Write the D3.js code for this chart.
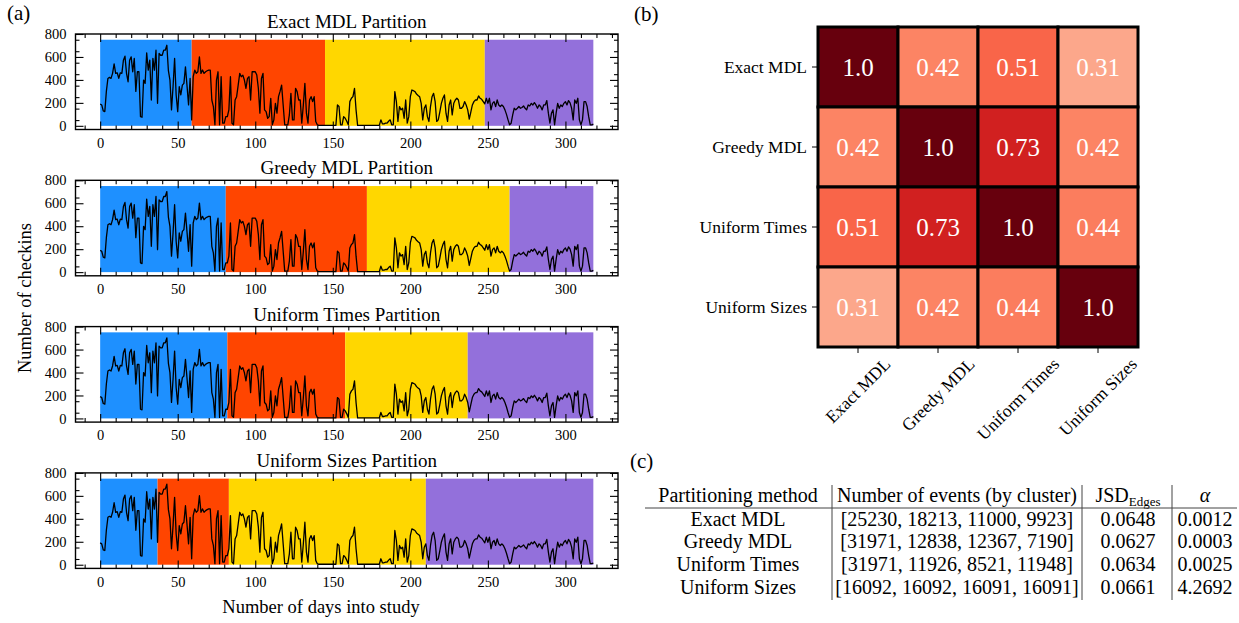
<!DOCTYPE html>
<html><head><meta charset="utf-8">
<script src="https://cdn.jsdelivr.net/npm/d3@7"></script>
<style>
body{margin:0;background:#fff}
text{font-family:'Liberation Serif','DejaVu Serif',serif}
</style>
</head><body>
<svg id="c" width="1239" height="623" font-family="Liberation Serif"></svg>
<script>
// ---------- DATA ----------
const checkins = [
190,182,130,124,300,413,422,413,457,540,
457,462,413,462,457,572,607,457,384,572,
601,471,587,300,471,471,80,75,399,370,
636,485,572,225,587,485,659,196,630,615,
615,659,659,702,480,399,139,341,587,269,
124,341,269,355,370,514,350,182,413,52,
428,486,457,471,601,457,486,457,471,480,
486,486,225,168,9,399,471,9,428,23,
23,80,80,139,428,23,9,225,254,355,
457,428,442,399,327,413,428,225,471,471,
471,442,327,110,413,457,139,124,66,80,
240,9,52,196,110,254,300,355,182,9,
9,9,95,283,52,52,327,298,225,225,
23,180,370,110,23,225,254,211,254,38,
9,4,4,4,4,4,4,4,4,4,
4,4,4,182,168,9,9,80,66,40,
9,211,240,254,327,139,4,4,4,4,
4,4,4,4,4,4,4,4,4,4,
4,52,17,17,23,23,40,52,9,9,
298,211,38,168,139,153,66,225,23,80,
254,312,306,298,277,265,254,196,52,153,
182,80,38,168,254,283,211,38,52,120,
196,240,269,110,38,182,225,95,196,225,
240,225,153,153,168,211,182,139,58,120,
182,211,225,225,260,240,231,211,191,240,
196,240,139,196,211,168,225,182,168,182,
168,139,100,52,9,23,95,153,139,153,
168,153,160,173,153,139,182,173,196,182,
202,182,153,182,168,139,182,182,220,110,
23,110,139,9,110,196,153,182,168,196,
211,182,220,200,153,52,225,196,240,52,
9,52,211,211,168,80,9,9,15
];
const methods = ["Exact MDL","Greedy MDL","Uniform Times","Uniform Sizes"];
const exactBounds  = [0,59,145,248,318];
const greedyBounds = [0,81,172,264,318];
const timesBounds  = [0,82,158,237,318];
const sizesBounds  = [0,37,83,210,318];
const clusterColors = ["#1E90FF","#FF4500","#FFD700","#9370DB"];
const bandTop = 750;
const xTicks = [0,50,100,150,200,250,300];
const yTicks = [0,200,400,600,800];
const similarity = [
  [1.0,0.42,0.51,0.31],
  [0.42,1.0,0.73,0.42],
  [0.51,0.73,1.0,0.44],
  [0.31,0.42,0.44,1.0]
];
const tableEvents = ["[25230, 18213, 11000, 9923]","[31971, 12838, 12367, 7190]","[31971, 11926, 8521, 11948]","[16092, 16092, 16091, 16091]"];
const tableJSD = ["0.0648","0.0627","0.0634","0.0661"];
const tableAlpha = ["0.0012","0.0003","0.0025","4.2692"];

// ---------- PANEL A ----------
const svg = d3.select("#c");
const serif = "Liberation Serif";
const partitions = [exactBounds, greedyBounds, timesBounds, sizesBounds];
const aLeft = 75.5, aRight = 618, aTop0 = 34, aH = 95.5, aStep = 146.3;
const x = d3.scaleLinear().domain([-15.9, 333.9]).range([aLeft, aRight]);
const xMinor = d3.range(-10, 334, 10).filter(v => v % 50 !== 0);
const yMinor = d3.range(50, 800, 100);

function styleAxis(g){
  g.select(".domain").remove();
  g.attr("font-family", serif).attr("font-size", 14.5);
  g.selectAll("line").attr("stroke","#000").attr("stroke-width",1.1);
  g.selectAll("text").attr("fill","#000");
}

partitions.forEach((bounds, i) => {
  const top = aTop0 + i*aStep, bot = top + aH;
  const y = d3.scaleLinear().domain([-32, 800]).range([bot, top]);
  const g = svg.append("g");
  for (let k = 0; k < 4; k++) {
    g.append("rect")
      .attr("x", x(bounds[k])).attr("width", x(bounds[k+1]) - x(bounds[k]))
      .attr("y", y(bandTop)).attr("height", y(0) - y(bandTop))
      .attr("fill", clusterColors[k]);
  }
  g.append("path").datum(checkins)
    .attr("d", d3.line().x((d,j) => x(j)).y(d => y(d)))
    .attr("fill","none").attr("stroke","#000").attr("stroke-width",1.3)
    .attr("stroke-linejoin","round");
  g.append("g").attr("transform",`translate(0,${bot})`)
    .call(d3.axisBottom(x).tickValues(xTicks).tickSizeInner(-8).tickSizeOuter(0).tickPadding(8)).call(styleAxis);
  g.append("g").attr("transform",`translate(0,${bot})`)
    .call(d3.axisBottom(x).tickValues(xMinor).tickSizeInner(-4).tickSizeOuter(0).tickFormat("")).call(styleAxis);
  g.append("g").attr("transform",`translate(0,${top})`)
    .call(d3.axisTop(x).tickValues(xTicks).tickSizeInner(-8).tickSizeOuter(0).tickFormat("")).call(styleAxis);
  g.append("g").attr("transform",`translate(0,${top})`)
    .call(d3.axisTop(x).tickValues(xMinor).tickSizeInner(-4).tickSizeOuter(0).tickFormat("")).call(styleAxis);
  g.append("g").attr("transform",`translate(${aLeft},0)`)
    .call(d3.axisLeft(y).tickValues(yTicks).tickSizeInner(-8).tickSizeOuter(0).tickPadding(9)).call(styleAxis);
  g.append("g").attr("transform",`translate(${aLeft},0)`)
    .call(d3.axisLeft(y).tickValues(yMinor).tickSizeInner(-4).tickSizeOuter(0).tickFormat("")).call(styleAxis);
  g.append("g").attr("transform",`translate(${aRight},0)`)
    .call(d3.axisRight(y).tickValues(yTicks).tickSizeInner(-8).tickSizeOuter(0).tickFormat("")).call(styleAxis);
  g.append("g").attr("transform",`translate(${aRight},0)`)
    .call(d3.axisRight(y).tickValues(yMinor).tickSizeInner(-4).tickSizeOuter(0).tickFormat("")).call(styleAxis);
  g.append("rect").attr("x",aLeft).attr("y",top).attr("width",aRight-aLeft).attr("height",aH)
    .attr("fill","none").attr("stroke","#000").attr("stroke-width",1.4);
  g.append("text").attr("x",(aLeft+aRight)/2).attr("y",top-6).attr("text-anchor","middle")
    .attr("font-size",19).text(methods[i] + " Partition");
});
svg.append("text").attr("x",321).attr("y",613).attr("text-anchor","middle").attr("font-size",18.5)
  .text("Number of days into study");
svg.append("text").attr("transform","translate(31,298) rotate(-90)").attr("text-anchor","middle").attr("font-size",18.5)
  .text("Number of checkins");
svg.append("text").attr("x",7).attr("y",20).attr("font-size",21).text("(a)");

// ---------- PANEL B ----------
svg.append("text").attr("x",634).attr("y",21).attr("font-size",21).text("(b)");
const hx = d3.scaleBand().domain(methods).range([818,1138]);
const hy = d3.scaleBand().domain(methods).range([27,347]);
const color = d3.scaleSequential(d3.interpolateReds).domain([0,1]);
const hg = svg.append("g");
similarity.forEach((row, r) => row.forEach((v, c) => {
  hg.append("rect").attr("x",hx(methods[c])).attr("y",hy(methods[r]))
    .attr("width",hx.bandwidth()).attr("height",hy.bandwidth())
    .attr("fill",color(v)).attr("stroke","#000").attr("stroke-width",3);
  hg.append("text").attr("x",hx(methods[c])+hx.bandwidth()/2).attr("y",hy(methods[r])+hy.bandwidth()/2)
    .attr("text-anchor","middle").attr("dominant-baseline","central")
    .attr("fill","#fff").attr("font-size",25).text(v === 1 ? "1.0" : String(v));
}));
methods.forEach(m => {
  const cy = hy(m) + hy.bandwidth()/2;
  hg.append("line").attr("x1",812).attr("x2",818).attr("y1",cy).attr("y2",cy).attr("stroke","#000");
  hg.append("text").attr("x",807).attr("y",cy).attr("text-anchor","end").attr("dominant-baseline","central")
    .attr("font-size",17.5).text(m);
  const cx = hx(m) + hx.bandwidth()/2;
  hg.append("line").attr("x1",cx).attr("x2",cx).attr("y1",347).attr("y2",353).attr("stroke","#000");
  const t = hg.append("text").attr("text-anchor","middle").attr("dominant-baseline","central")
    .attr("font-family",serif).attr("font-size",17.5).text(m);
  const L = t.node().getComputedTextLength();
  const h = (L + 17) * Math.SQRT1_2;
  t.attr("transform",`translate(${cx},${355 + h/2}) rotate(-45)`);
});

// ---------- PANEL C ----------
svg.append("text").attr("x",630).attr("y",468).attr("font-size",21).text("(c)");
const tg = svg.append("g").attr("font-size",20);
const colX = [738, 957, 1128, 1205];
const hdrY = 502, rowY0 = 525.5, rowStep = 22.7;
tg.append("text").attr("x",colX[0]).attr("y",hdrY).attr("text-anchor","middle").text("Partitioning method");
tg.append("text").attr("x",colX[1]).attr("y",hdrY).attr("text-anchor","middle").text("Number of events (by cluster)");
const jt = tg.append("text").attr("x",colX[2]).attr("y",hdrY).attr("text-anchor","middle");
jt.append("tspan").text("JSD");
jt.append("tspan").attr("dy",4).attr("font-size",13).text("Edges");
tg.append("text").attr("x",colX[3]).attr("y",hdrY).attr("text-anchor","middle").attr("font-style","italic").text("α");
methods.forEach((m, i) => {
  const yy = rowY0 + i*rowStep;
  [m, tableEvents[i], tableJSD[i], tableAlpha[i]].forEach((s, c) => {
    tg.append("text").attr("x",colX[c]).attr("y",yy).attr("text-anchor","middle").text(s);
  });
});
[832, 1082, 1172].forEach(vx => tg.append("line").attr("x1",vx).attr("x2",vx).attr("y1",485).attr("y2",600)
  .attr("stroke","#444").attr("stroke-width",1));
tg.append("line").attr("x1",645).attr("x2",1237).attr("y1",508).attr("y2",508).attr("stroke","#444").attr("stroke-width",1);
svg.selectAll("text").attr("font-family", serif);
</script>
</body></html>
